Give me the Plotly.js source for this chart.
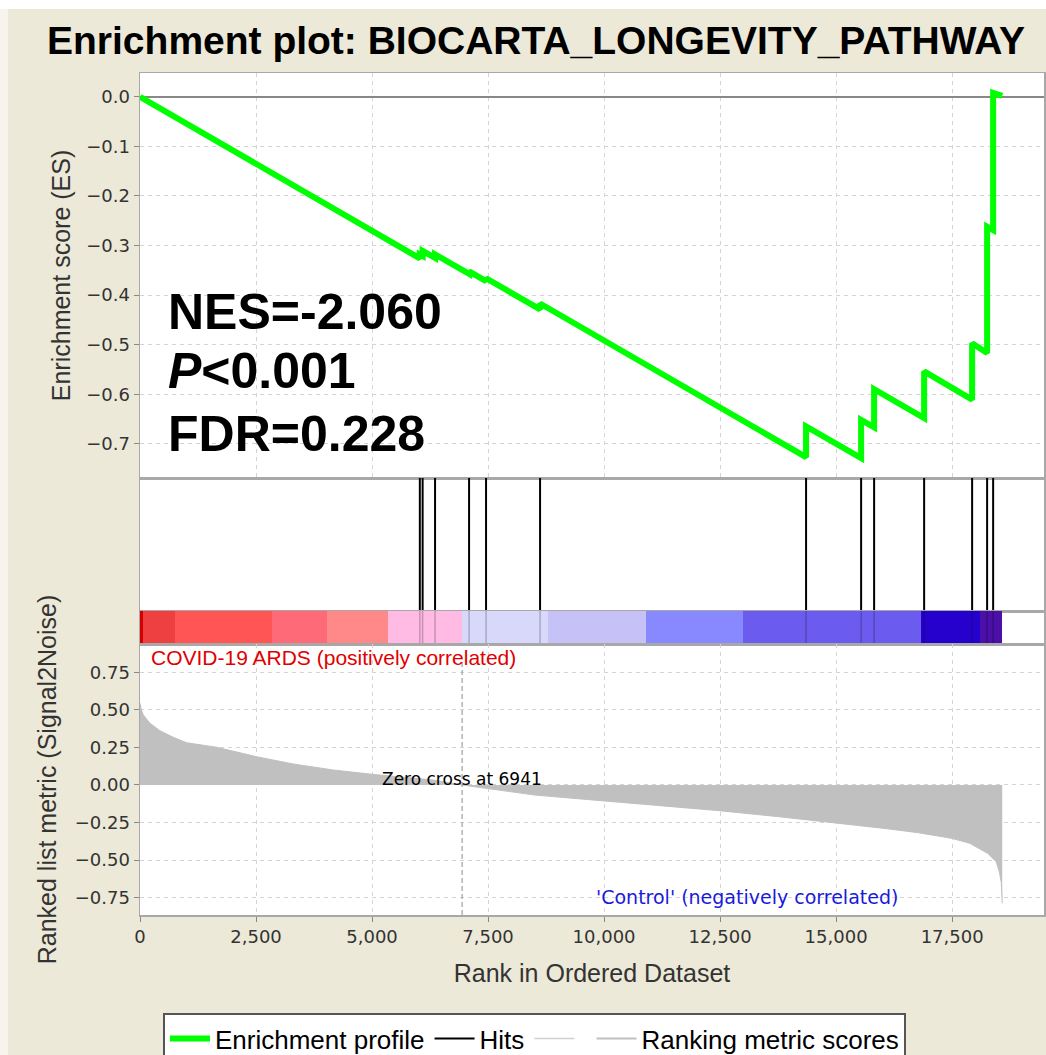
<!DOCTYPE html>
<html>
<head>
<meta charset="utf-8">
<script src="https://cdn.plot.ly/plotly-3.0.1.min.js"></script>
<style>html,body{margin:0;padding:0;background:#ece9d8;}#chart{width:1046px;height:1055px;}</style>
</head>
<body>
<div id="chart"></div>
<script>
// ---- data ----
const nGenes = 18580;
const zeroCross = 6941;
// running enrichment score vertices (rank, ES)
const esRank  = [0, 6030, 6030, 6090, 6090, 6358, 6358, 7091, 7091, 7457, 7457, 8621, 8621, 14353, 14353, 15539, 15539, 15819, 15819, 16897, 16897, 17931, 17931, 18254, 18254, 18384, 18384, 18580];
const esScore = [0, -0.326, -0.318, -0.321, -0.311, -0.325, -0.318, -0.357, -0.352, -0.372, -0.366, -0.429, -0.417, -0.727, -0.665, -0.729, -0.652, -0.667, -0.590, -0.648, -0.554, -0.611, -0.497, -0.517, -0.262, -0.269, 0.008, 0.002];
// positions of the gene-set members (hits)
const hitRanks = [6030, 6090, 6358, 7091, 7457, 8621, 14353, 15539, 15819, 16897, 17931, 18254, 18384];
// ranked list metric (Signal2Noise)
const metricRank  = [0, 30, 71, 216, 431, 718, 1006, 1652, 2514, 3297, 4160, 5000, 6322, 6941, 7759, 8508, 10000, 11509, 12487, 13763, 14985, 16013, 16763, 17492, 17880, 18265, 18450, 18520, 18560, 18580];
const metricValue = [0.544, 0.50, 0.466, 0.41, 0.361, 0.317, 0.281, 0.251, 0.188, 0.14, 0.10, 0.071, 0.033, 0.0, -0.035, -0.067, -0.106, -0.144, -0.171, -0.211, -0.251, -0.288, -0.317, -0.355, -0.388, -0.455, -0.51, -0.58, -0.65, -0.787];
// colour bar segments (edges in rank) and colours
const cbEdges  = [0, 65, 754, 2845, 4030, 5345, 6941, 8793, 10905, 12996, 16832, 18103, 18580];
const cbColors = ['#d40000', '#ee4040', '#ff5555', '#ff6a78', '#ff8888', '#ffbbe3', '#d8d8fa', '#c6c2f7', '#8888ff', '#6b5bee', '#2600cc', '#4a10a8'];
const xTickVals = [0, 2500, 5000, 7500, 10000, 12500, 15000, 17500];

// ---- build traces ----
const hitX = [], hitY = [];
hitRanks.forEach(r => { hitX.push(r, r, null); hitY.push(0, 1, null); });

const cbMid = [], cbWidth = [], cbOnes = [];
for (let i = 0; i < cbColors.length; i++) {
  cbMid.push((cbEdges[i] + cbEdges[i + 1]) / 2);
  cbWidth.push(cbEdges[i + 1] - cbEdges[i]);
  cbOnes.push(1);
}

const traces = [
  {x: esRank, y: esScore, xaxis: 'x', yaxis: 'y', type: 'scatter', mode: 'lines',
   line: {color: '#00ff00', width: 6}, name: 'Enrichment profile', hoverinfo: 'skip'},
  {x: hitX, y: hitY, xaxis: 'x2', yaxis: 'y2', type: 'scatter', mode: 'lines',
   line: {color: '#000000', width: 2}, name: 'Hits', hoverinfo: 'skip'},
  {x: cbMid, y: cbOnes, width: cbWidth, base: 0, xaxis: 'x3', yaxis: 'y3', type: 'bar',
   marker: {color: cbColors, line: {width: 0}}, showlegend: false, hoverinfo: 'skip'},
  {x: hitX, y: hitY, xaxis: 'x3', yaxis: 'y3', type: 'scatter', mode: 'lines',
   line: {color: 'rgba(0,0,0,0.22)', width: 1.5}, showlegend: false, hoverinfo: 'skip'},
  {x: metricRank, y: metricValue, xaxis: 'x4', yaxis: 'y4', type: 'scatter', mode: 'lines',
   fill: 'tozeroy', fillcolor: '#c0c0c0', line: {color: '#c0c0c0', width: 1},
   showlegend: false, hoverinfo: 'skip'},
  {x: [null], y: [null], xaxis: 'x4', yaxis: 'y4', type: 'scatter', mode: 'lines',
   line: {color: '#d0d0d0', width: 1.5}, name: ' ', hoverinfo: 'skip'},
  {x: [null], y: [null], xaxis: 'x4', yaxis: 'y4', type: 'scatter', mode: 'lines',
   line: {color: '#c0c0c0', width: 2}, name: 'Ranking metric scores', hoverinfo: 'skip'}
];

const xRange = [0, 19480];
const W = 1046, H = 1055, mL = 140, mR = 2, mT = 73, mB = 140;
const plotH = H - mT - mB, plotW = W - mL - mR;
const py = p => (H - mB - p) / plotH;   // pixel row -> paper y
const px = p => (p - mL) / plotW;       // pixel col -> paper x

const tickFont = {family: 'DejaVu Sans, Verdana, sans-serif', size: 18, color: '#333'};
const titleFont = {family: 'Liberation Sans, Arial, sans-serif', size: 25, color: '#333'};
const lineCommon = {showline: true, mirror: true, linecolor: '#a8a8a8', linewidth: 1.5};
const gridCommon = Object.assign({gridcolor: '#d4d4d4', griddash: '4px,4px', gridwidth: 1}, lineCommon);

const layout = {
  width: W, height: H,
  paper_bgcolor: '#ece9d8', plot_bgcolor: '#ffffff',
  margin: {l: mL, r: mR, t: mT, b: mB, autoexpand: false},
  title: {text: 'Enrichment plot: BIOCARTA_LONGEVITY_PATHWAY',
    font: {family: 'Liberation Sans, Arial, sans-serif', size: 39, color: '#000', weight: 'bold'},
    x: 536 / W, xanchor: 'center', y: 1 - 40 / H, yanchor: 'middle', xref: 'container', yref: 'container'},
  showlegend: true,
  legend: {orientation: 'h', x: px(163), xanchor: 'left', y: py(1013), yanchor: 'top',
    bgcolor: '#ffffff', bordercolor: '#555555', borderwidth: 2,
    font: {family: 'Liberation Sans, Arial, sans-serif', size: 26, color: '#000'},
    itemwidth: 40, tracegroupgap: 0},
  xaxis: Object.assign({}, gridCommon, {anchor: 'y', range: xRange, tickvals: xTickVals, showticklabels: false, ticks: '', zeroline: false}),
  yaxis: Object.assign({}, gridCommon, {domain: [py(478), 1], range: [-0.769, 0.048], dtick: 0.1, tick0: 0,
    tickformat: '.1f', ticks: 'outside', ticklen: 5, tickcolor: '#888', tickfont: tickFont,
    zeroline: true, zerolinecolor: '#888888', zerolinewidth: 2,
    title: {text: 'Enrichment score (ES)', font: titleFont, standoff: 8}}),
  xaxis2: Object.assign({}, lineCommon, {anchor: 'y2', range: xRange, showgrid: false, showticklabels: false, ticks: '', zeroline: false}),
  yaxis2: Object.assign({}, lineCommon, {domain: [py(611), py(478)], range: [0, 1], showgrid: false, showticklabels: false, ticks: '', zeroline: false}),
  xaxis3: Object.assign({}, lineCommon, {anchor: 'y3', range: xRange, showgrid: false, showticklabels: false, ticks: '', zeroline: false}),
  yaxis3: Object.assign({}, lineCommon, {domain: [py(644), py(611)], range: [0, 1], showgrid: false, showticklabels: false, ticks: '', zeroline: false}),
  xaxis4: Object.assign({}, gridCommon, {anchor: 'y4', range: xRange, tickvals: xTickVals, tickformat: ',d',
    ticks: 'outside', ticklen: 5, tickcolor: '#888', tickfont: tickFont, zeroline: false,
    title: {text: 'Rank in Ordered Dataset', font: titleFont, standoff: 18}}),
  yaxis4: Object.assign({}, gridCommon, {domain: [0, py(644)], range: [-0.865, 0.938], dtick: 0.25, tick0: 0,
    tickformat: '.2f', ticks: 'outside', ticklen: 5, tickcolor: '#888', tickfont: tickFont, zeroline: false,
    title: {text: 'Ranked list metric (Signal2Noise)', font: titleFont, standoff: 11}}),
  bargap: 0,
  shapes: [
    {type: 'line', xref: 'x4', yref: 'y4 domain', x0: zeroCross, x1: zeroCross, y0: 0, y1: 0.95,
     line: {color: '#a0a0a0', width: 1.2, dash: '5px,3px'}},
    {type: 'rect', xref: 'paper', yref: 'paper', x0: px(0), x1: px(8), y0: py(H), y1: py(0),
     fillcolor: '#f6f4ec', line: {width: 0}, layer: 'below'},
    {type: 'rect', xref: 'paper', yref: 'paper', x0: px(0), x1: px(W), y0: py(9), y1: py(0),
     fillcolor: '#ffffff', line: {width: 0}, layer: 'below'}
  ],
  annotations: [
    {text: '<b>NES=-2.060</b>', xref: 'paper', yref: 'paper', x: px(166), y: py(312), xanchor: 'left', yanchor: 'middle',
     showarrow: false, font: {family: 'Liberation Sans, Arial, sans-serif', size: 50, color: '#000'}},
    {text: '<b><i>P</i>&lt;0.001</b>', xref: 'paper', yref: 'paper', x: px(166), y: py(371), xanchor: 'left', yanchor: 'middle',
     showarrow: false, font: {family: 'Liberation Sans, Arial, sans-serif', size: 50, color: '#000'}},
    {text: '<b>FDR=0.228</b>', xref: 'paper', yref: 'paper', x: px(166), y: py(434), xanchor: 'left', yanchor: 'middle',
     showarrow: false, font: {family: 'Liberation Sans, Arial, sans-serif', size: 50, color: '#000'}},
    {text: 'COVID-19 ARDS (positively correlated)', xref: 'paper', yref: 'paper', x: px(149), y: py(657),
     xanchor: 'left', yanchor: 'middle', showarrow: false,
     font: {family: 'Liberation Sans, Arial, sans-serif', size: 21, color: '#e00000'}},
    {text: "'Control' (negatively correlated)", xref: 'paper', yref: 'paper', x: px(747), y: py(897),
     xanchor: 'center', yanchor: 'middle', showarrow: false,
     font: {family: 'DejaVu Sans, Verdana, sans-serif', size: 19, color: '#1a1adb'}},
    {text: 'Zero cross at ' + zeroCross, xref: 'x4', yref: 'y4', x: zeroCross, y: 0, yshift: 6,
     xanchor: 'center', yanchor: 'middle', showarrow: false,
     font: {family: 'DejaVu Sans, Verdana, sans-serif', size: 17, color: '#000'}}
  ]
};

Plotly.newPlot('chart', traces, layout, {displayModeBar: false, staticPlot: true});
</script>
</body>
</html>
